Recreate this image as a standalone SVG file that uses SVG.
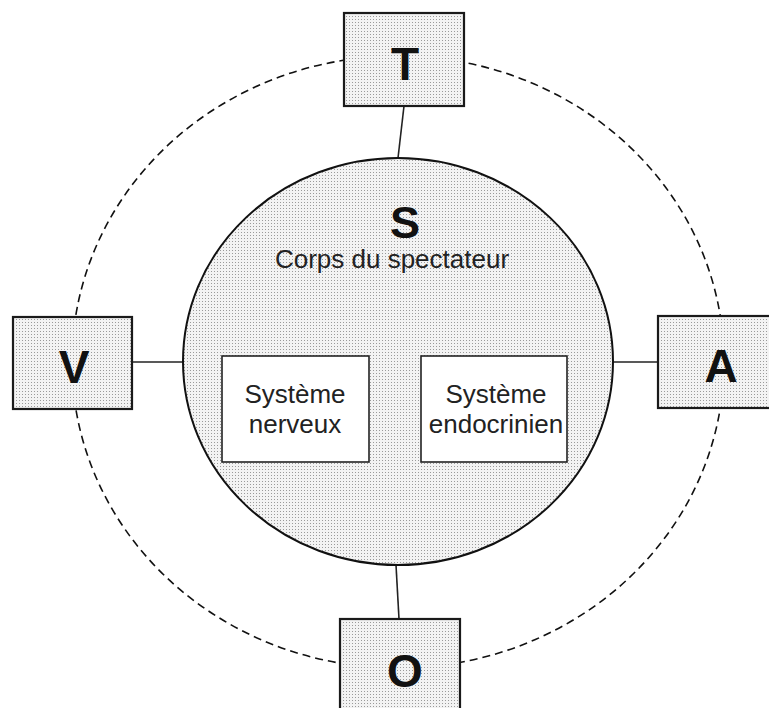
<svg xmlns="http://www.w3.org/2000/svg" width="769" height="708" viewBox="0 0 769 708">
  <defs>
    <pattern id="dots" width="3" height="3" patternUnits="userSpaceOnUse">
      <rect width="3" height="3" fill="#f3f3f3"/>
      <rect x="1" y="1" width="1" height="1" fill="#9a9a9a"/>
    </pattern>
  </defs>
  <style>
    .outer { fill: url(#dots); stroke: #1a1a1a; stroke-width: 2.2; }
    .body { fill: url(#dots); stroke: #111; stroke-width: 2; }
    .inner { fill: #ffffff; stroke: #222; stroke-width: 1.6; }
    .big { font-family: "Liberation Sans", Arial, sans-serif; font-weight: bold; font-size: 46px; text-anchor: middle; fill: #111; }
    .lbl { font-family: "Liberation Sans", Arial, sans-serif; font-size: 26px; text-anchor: middle; fill: #222; }
    .conn { stroke: #222; stroke-width: 1.6; fill: none; }
    .dash { stroke: #111; stroke-width: 1.6; fill: none; stroke-dasharray: 8 5; }
  </style>
  <rect width="769" height="708" fill="#ffffff"/>

  <g id="orbit">
    <ellipse class="dash" cx="398" cy="362" rx="326" ry="306"/>
  </g>

  <g id="connectors">
    <line class="conn" x1="404" y1="106" x2="398" y2="158"/>
    <line class="conn" x1="132" y1="362" x2="184" y2="362"/>
    <line class="conn" x1="613" y1="362" x2="658" y2="362"/>
    <line class="conn" x1="396" y1="565" x2="399" y2="619"/>
  </g>

  <g id="node-S">
    <ellipse class="body" cx="398" cy="361.5" rx="215" ry="203.5"/>
    <text class="big" x="405" y="238" style="font-size:45px">S</text>
    <text class="lbl" x="392" y="268">Corps du spectateur</text>
  </g>

  <g id="node-nerveux">
    <rect class="inner" x="222" y="356" width="147" height="106"/>
    <text class="lbl" x="295" y="403">Système</text>
    <text class="lbl" x="295" y="433">nerveux</text>
  </g>

  <g id="node-endocrinien">
    <rect class="inner" x="421" y="356" width="146" height="106"/>
    <text class="lbl" x="496" y="403">Système</text>
    <text class="lbl" x="496" y="433">endocrinien</text>
  </g>

  <g id="node-T">
    <rect class="outer" x="344" y="13" width="120" height="93"/>
    <text class="big" x="405" y="80">T</text>
  </g>

  <g id="node-V">
    <rect class="outer" x="13" y="317" width="119" height="92"/>
    <text class="big" x="74" y="383">V</text>
  </g>

  <g id="node-A">
    <rect class="outer" x="658" y="316" width="122" height="92"/>
    <text class="big" x="721" y="382">A</text>
  </g>

  <g id="node-O">
    <rect class="outer" x="340" y="619" width="120" height="95"/>
    <text class="big" x="405" y="687">O</text>
  </g>
</svg>
